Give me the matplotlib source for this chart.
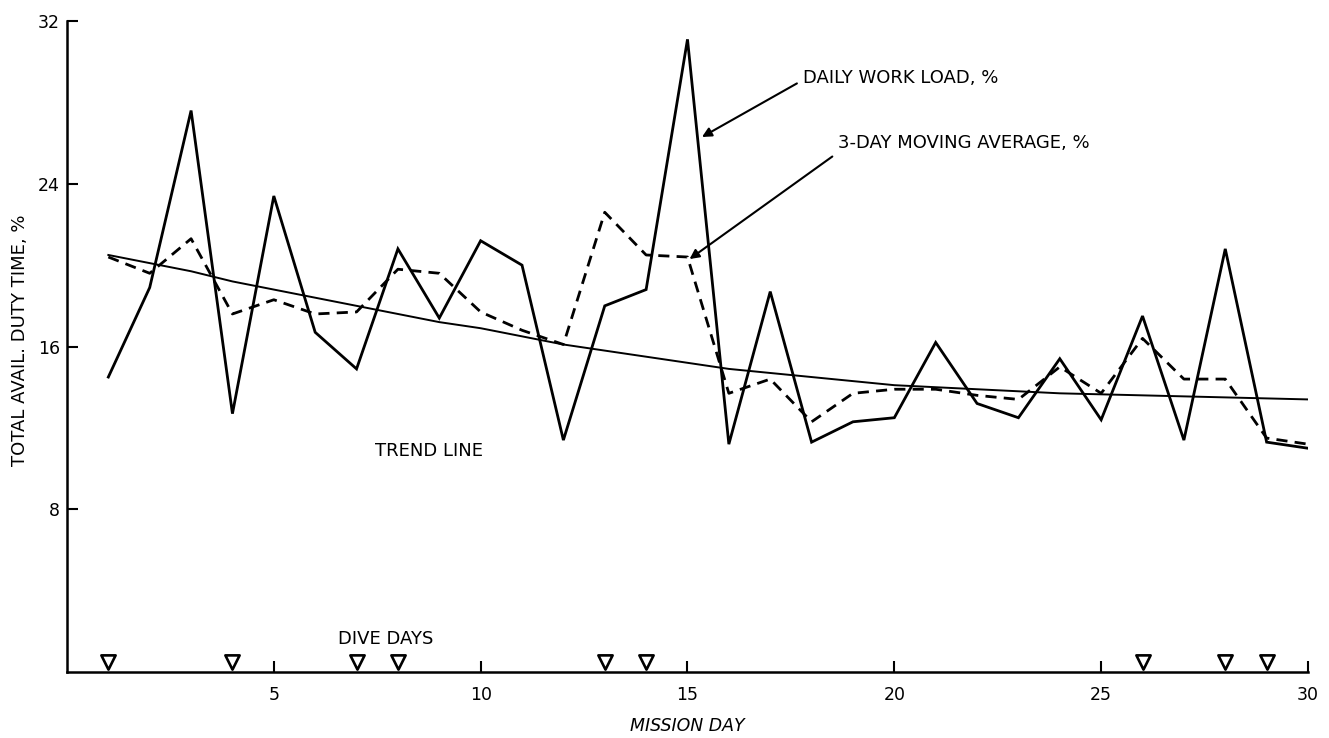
import matplotlib
matplotlib.use("Agg")
import matplotlib.pyplot as plt

days = list(range(1, 31))
daily_load = [14.5, 18.9, 27.6, 12.7, 23.4, 16.7, 14.9, 20.8, 17.4, 21.2,
              20.0, 11.4, 18.0, 18.8, 31.1, 11.2, 18.7, 11.3, 12.3, 12.5,
              16.2, 13.2, 12.5, 15.4, 12.4, 17.5, 11.4, 20.8, 11.3, 11.0]
moving_avg = [20.4, 19.6, 21.3, 17.6, 18.3, 17.6, 17.7, 19.8, 19.6, 17.7,
              16.8, 16.1, 22.6, 20.5, 20.4, 13.7, 14.4, 12.3, 13.7, 13.9,
              13.9, 13.6, 13.4, 15.0, 13.7, 16.4, 14.4, 14.4, 11.5, 11.2]
trend = [20.5, 20.1, 19.7, 19.2, 18.8, 18.4, 18.0, 17.6, 17.2, 16.9,
         16.5, 16.1, 15.8, 15.5, 15.2, 14.9, 14.7, 14.5, 14.3, 14.1,
         14.0, 13.9, 13.8, 13.7, 13.65, 13.6, 13.55, 13.5, 13.45, 13.4]
dive_days = [1, 4, 7, 8, 13, 14, 26, 28, 29]
dive_marker_level = 0.5
x_ticks = [5, 10, 15, 20, 25, 30]
y_ticks = [8, 16, 24, 32]

plt.rcParams['font.family'] = ['DejaVu Sans']

fig = plt.figure(figsize=(13.29, 7.38), dpi=100)
ax = fig.add_axes([0.0504, 0.0894, 0.9338, 0.8821])

ax.plot(days, daily_load, color='black', lw=2.0, solid_joinstyle='miter')
ax.plot(days, moving_avg, color='black', lw=2.0, ls=(0, (4, 2.6)))
ax.plot(days, trend, color='black', lw=1.4)
ax.scatter(dive_days, [dive_marker_level] * len(dive_days), marker='v', s=105,
           facecolors='white', edgecolors='black', linewidths=1.9, zorder=5)

ax.set_xlim(0, 30)
ax.set_ylim(0, 32)
ax.set_xticks(x_ticks)
ax.set_yticks(y_ticks)
ax.tick_params(axis='both', direction='in', length=8, width=1.5, labelsize=12.5)
ax.tick_params(axis='x', pad=10)
ax.tick_params(axis='y', pad=5)
ax.spines['top'].set_visible(False)
ax.spines['right'].set_visible(False)
ax.spines['left'].set_linewidth(1.8)
ax.spines['bottom'].set_linewidth(1.8)

ax.set_xlabel('MISSION DAY', fontsize=12.5, style='italic')
ax.xaxis.set_label_coords(0.5, -0.069)
ax.set_ylabel('TOTAL AVAIL. DUTY TIME, %', fontsize=13)
ax.yaxis.set_label_coords(-0.031, 0.51)

ax.text(7.7, 1.6, 'DIVE DAYS', fontsize=13, ha='center', va='center')
ax.text(8.75, 10.85, 'TREND LINE', fontsize=13, ha='center', va='center')

ax.annotate('DAILY WORK LOAD, %', xy=(15.35, 26.3), xytext=(17.8, 29.2),
            fontsize=13, ha='left', va='center',
            arrowprops=dict(arrowstyle='-|>', color='black', lw=1.5,
                            relpos=(0, 0.4), shrinkA=3, shrinkB=0,
                            mutation_scale=14))
ax.annotate('3-DAY MOVING AVERAGE, %', xy=(15.05, 20.3), xytext=(18.65, 26.0),
            fontsize=13, ha='left', va='center',
            arrowprops=dict(arrowstyle='-|>', color='black', lw=1.5,
                            relpos=(0, 0.0), shrinkA=3, shrinkB=0,
                            mutation_scale=14))

fig.savefig('out.png', dpi=100)
